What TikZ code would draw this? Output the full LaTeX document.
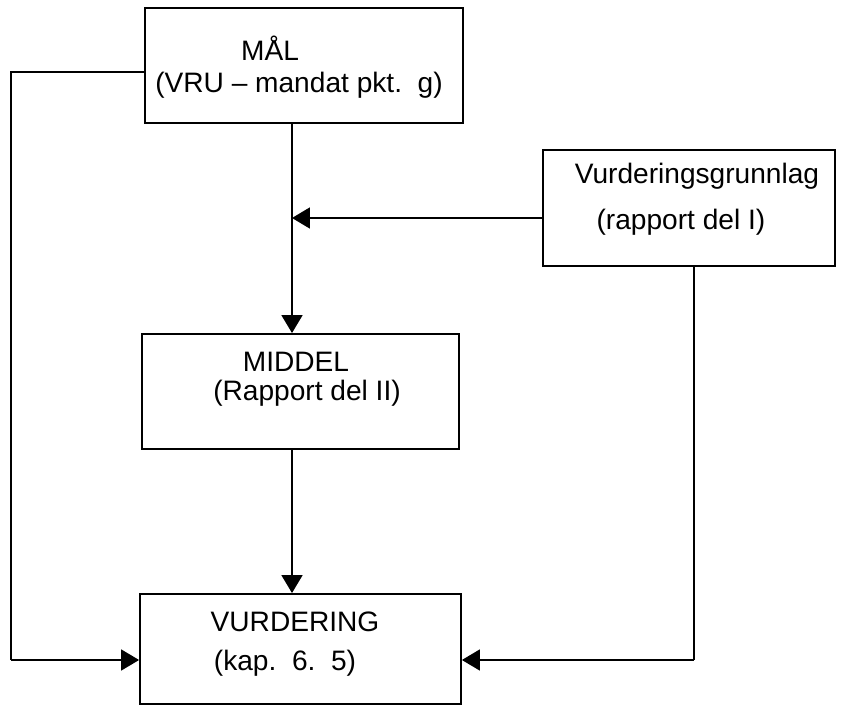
\documentclass[tikz,border=0pt]{standalone}
\usepackage{fontspec}
\setmainfont{Liberation Sans}
\usepackage{tikz}
\usetikzlibrary{arrows.meta,calc}

\tikzset{
  blokk/.style={draw,black,line width=1.1pt,inner sep=0pt},
  tekst/.style={inner sep=0pt,font=\fontsize{16}{19}\selectfont},
  pil/.style={line width=1.1pt,black,-{Triangle[length=0.36cm,width=0.42cm]}}
}

\begin{document}
\begin{tikzpicture}[x=0.02cm,y=-0.02cm]
    \useasboundingbox (0,0) rectangle (843,706);

    \node[blokk,minimum width=6.36cm,minimum height=2.3cm] (mal) at (304,65.5) {};
    \node[blokk,minimum width=5.84cm,minimum height=2.32cm] (grunnlag) at (689,208) {};
    \node[blokk,minimum width=6.34cm,minimum height=2.3cm] (middel) at (300.5,391.5) {};
    \node[blokk,minimum width=6.42cm,minimum height=2.2cm] (vurdering) at (300.5,649) {};

    \node[tekst] (malA) at (270,48) {MÅL};
    \node[tekst] (malB) at (299,85) {(VRU -- mandat pkt.\ \ g)};
    \node[tekst] (grunnlagA) at (697,176) {Vurderingsgrunnlag};
    \node[tekst] (grunnlagB) at (681,222) {(rapport del I)};
    \node[tekst] (middelA) at (296,362) {MIDDEL};
    \node[tekst] (middelB) at (307,393) {(Rapport del II)};
    \node[tekst] (vurderingA) at (295,622) {VURDERING};
    \node[tekst] (vurderingB) at (285,663) {(kap.\ \ 6.\ \ 5)};

    \coordinate (venstreTopp) at (11,72);
    \coordinate (venstreBunn) at (11,660);
    \coordinate (kryss) at (292,218);
    \coordinate (hoyreBunn) at (694,660);

    \draw[line width=1.1pt] (venstreTopp -| mal.west) -- (venstreTopp) -- (venstreBunn);
    \draw[pil] (venstreBunn) -- (venstreBunn -| vurdering.west);
    \draw[pil] (kryss |- mal.south) -- (kryss |- middel.north);
    \draw[pil] (grunnlag.west |- kryss) -- (kryss);
    \draw[pil] (kryss |- middel.south) -- (kryss |- vurdering.north);
    \draw[line width=1.1pt] (hoyreBunn |- grunnlag.south) -- (hoyreBunn);
    \draw[pil] (hoyreBunn) -- (hoyreBunn -| vurdering.east);
\end{tikzpicture}
\end{document}
